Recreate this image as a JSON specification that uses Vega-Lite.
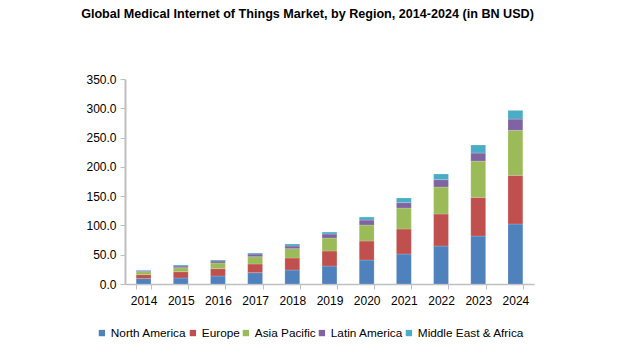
{
  "$schema": "https://vega.github.io/schema/vega-lite/v6.json",
  "autosize": "none",
  "width": 409,
  "height": 205,
  "padding": {"left": 125, "top": 79, "right": 104, "bottom": 73},
  "background": "white",
  "title": {
    "text": "Global Medical Internet of Things Market, by Region, 2014-2024 (in BN USD)",
    "font": "Liberation Sans, sans-serif",
    "fontSize": 12.6,
    "fontWeight": "bold",
    "color": "#000000",
    "anchor": "middle",
    "dx": -22,
    "offset": 52
  },
  "datasets": {
    "market": [
      {"year": "2014", "region": "North America", "value": 9.2},
      {"year": "2014", "region": "Europe", "value": 6.8},
      {"year": "2014", "region": "Asia Pacific", "value": 5.1},
      {"year": "2014", "region": "Latin America", "value": 1.7},
      {"year": "2014", "region": "Middle East & Africa", "value": 1.2},
      {"year": "2015", "region": "North America", "value": 10.2},
      {"year": "2015", "region": "Europe", "value": 10.8},
      {"year": "2015", "region": "Asia Pacific", "value": 6.8},
      {"year": "2015", "region": "Latin America", "value": 2.9},
      {"year": "2015", "region": "Middle East & Africa", "value": 1.7},
      {"year": "2016", "region": "North America", "value": 13.7},
      {"year": "2016", "region": "Europe", "value": 12.5},
      {"year": "2016", "region": "Asia Pacific", "value": 9.7},
      {"year": "2016", "region": "Latin America", "value": 3.4},
      {"year": "2016", "region": "Middle East & Africa", "value": 1.7},
      {"year": "2017", "region": "North America", "value": 19.3},
      {"year": "2017", "region": "Europe", "value": 14.8},
      {"year": "2017", "region": "Asia Pacific", "value": 12.5},
      {"year": "2017", "region": "Latin America", "value": 4.6},
      {"year": "2017", "region": "Middle East & Africa", "value": 1.7},
      {"year": "2018", "region": "North America", "value": 23.9},
      {"year": "2018", "region": "Europe", "value": 20.5},
      {"year": "2018", "region": "Asia Pacific", "value": 15.9},
      {"year": "2018", "region": "Latin America", "value": 4.6},
      {"year": "2018", "region": "Middle East & Africa", "value": 3.4},
      {"year": "2019", "region": "North America", "value": 30.7},
      {"year": "2019", "region": "Europe", "value": 25.6},
      {"year": "2019", "region": "Asia Pacific", "value": 22.2},
      {"year": "2019", "region": "Latin America", "value": 6.8},
      {"year": "2019", "region": "Middle East & Africa", "value": 3.4},
      {"year": "2020", "region": "North America", "value": 41.0},
      {"year": "2020", "region": "Europe", "value": 32.4},
      {"year": "2020", "region": "Asia Pacific", "value": 27.3},
      {"year": "2020", "region": "Latin America", "value": 8.5},
      {"year": "2020", "region": "Middle East & Africa", "value": 5.1},
      {"year": "2021", "region": "North America", "value": 51.2},
      {"year": "2021", "region": "Europe", "value": 42.7},
      {"year": "2021", "region": "Asia Pacific", "value": 35.8},
      {"year": "2021", "region": "Latin America", "value": 9.1},
      {"year": "2021", "region": "Middle East & Africa", "value": 8.0},
      {"year": "2022", "region": "North America", "value": 64.9},
      {"year": "2022", "region": "Europe", "value": 54.6},
      {"year": "2022", "region": "Asia Pacific", "value": 46.1},
      {"year": "2022", "region": "Latin America", "value": 12.5},
      {"year": "2022", "region": "Middle East & Africa", "value": 9.7},
      {"year": "2023", "region": "North America", "value": 81.9},
      {"year": "2023", "region": "Europe", "value": 66.0},
      {"year": "2023", "region": "Asia Pacific", "value": 62.0},
      {"year": "2023", "region": "Latin America", "value": 13.7},
      {"year": "2023", "region": "Middle East & Africa", "value": 13.7},
      {"year": "2024", "region": "North America", "value": 102.4},
      {"year": "2024", "region": "Europe", "value": 83.1},
      {"year": "2024", "region": "Asia Pacific", "value": 76.8},
      {"year": "2024", "region": "Latin America", "value": 19.3},
      {"year": "2024", "region": "Middle East & Africa", "value": 14.8}
    ]
  },
  "data": {"name": "market"},
  "transform": [
    {"calculate": "indexof(['North America', 'Europe', 'Asia Pacific', 'Latin America', 'Middle East & Africa'], datum.region)", "as": "stackOrder"}
  ],
  "mark": {"type": "bar", "stroke": "#FFFFFF", "strokeOpacity": 0.35, "strokeWidth": 0.5},
  "encoding": {
    "x": {
      "field": "year",
      "type": "ordinal",
      "title": null,
      "scale": {"paddingInner": 0.6, "paddingOuter": 0.3},
      "axis": {
        "labelAngle": 0,
        "labelFont": "Liberation Sans",
        "labelFontSize": 12,
        "labelColor": "#000000",
        "labelPadding": 6,
        "domainColor": "#BFBFBF",
        "domainWidth": 1.5,
        "tickColor": "#BFBFBF",
        "tickBand": "extent",
        "tickSize": 5,
        "tickWidth": 1
      }
    },
    "y": {
      "field": "value",
      "type": "quantitative",
      "stack": "zero",
      "title": null,
      "scale": {"domain": [0, 350], "nice": false},
      "axis": {
        "values": [0, 50, 100, 150, 200, 250, 300, 350],
        "format": ".1f",
        "grid": false,
        "labelFont": "Liberation Sans",
        "labelFontSize": 12,
        "labelColor": "#000000",
        "labelPadding": 4,
        "domainColor": "#BFBFBF",
        "domainWidth": 2,
        "tickColor": "#BFBFBF",
        "tickSize": 5,
        "tickWidth": 1
      }
    },
    "order": {"field": "stackOrder", "type": "quantitative", "sort": "ascending"},
    "color": {
      "field": "region",
      "type": "nominal",
      "sort": ["North America", "Europe", "Asia Pacific", "Latin America", "Middle East & Africa"],
      "scale": {
        "domain": ["North America", "Europe", "Asia Pacific", "Latin America", "Middle East & Africa"],
        "range": ["#4F81BD", "#C0504D", "#9BBB59", "#8064A2", "#4BACC6"]
      },
      "legend": {
        "title": null,
        "orient": "none",
        "direction": "horizontal",
        "legendX": -29,
        "legendY": 248,
        "symbolType": "square",
        "symbolSize": 40,
        "symbolStrokeWidth": 0,
        "labelFont": "Liberation Sans",
        "labelFontSize": 11.8,
        "labelColor": "#000000",
        "labelOffset": 3,
        "columnPadding": 0,
        "symbolOffset": 0
      }
    }
  },
  "config": {"view": {"stroke": null}}
}
